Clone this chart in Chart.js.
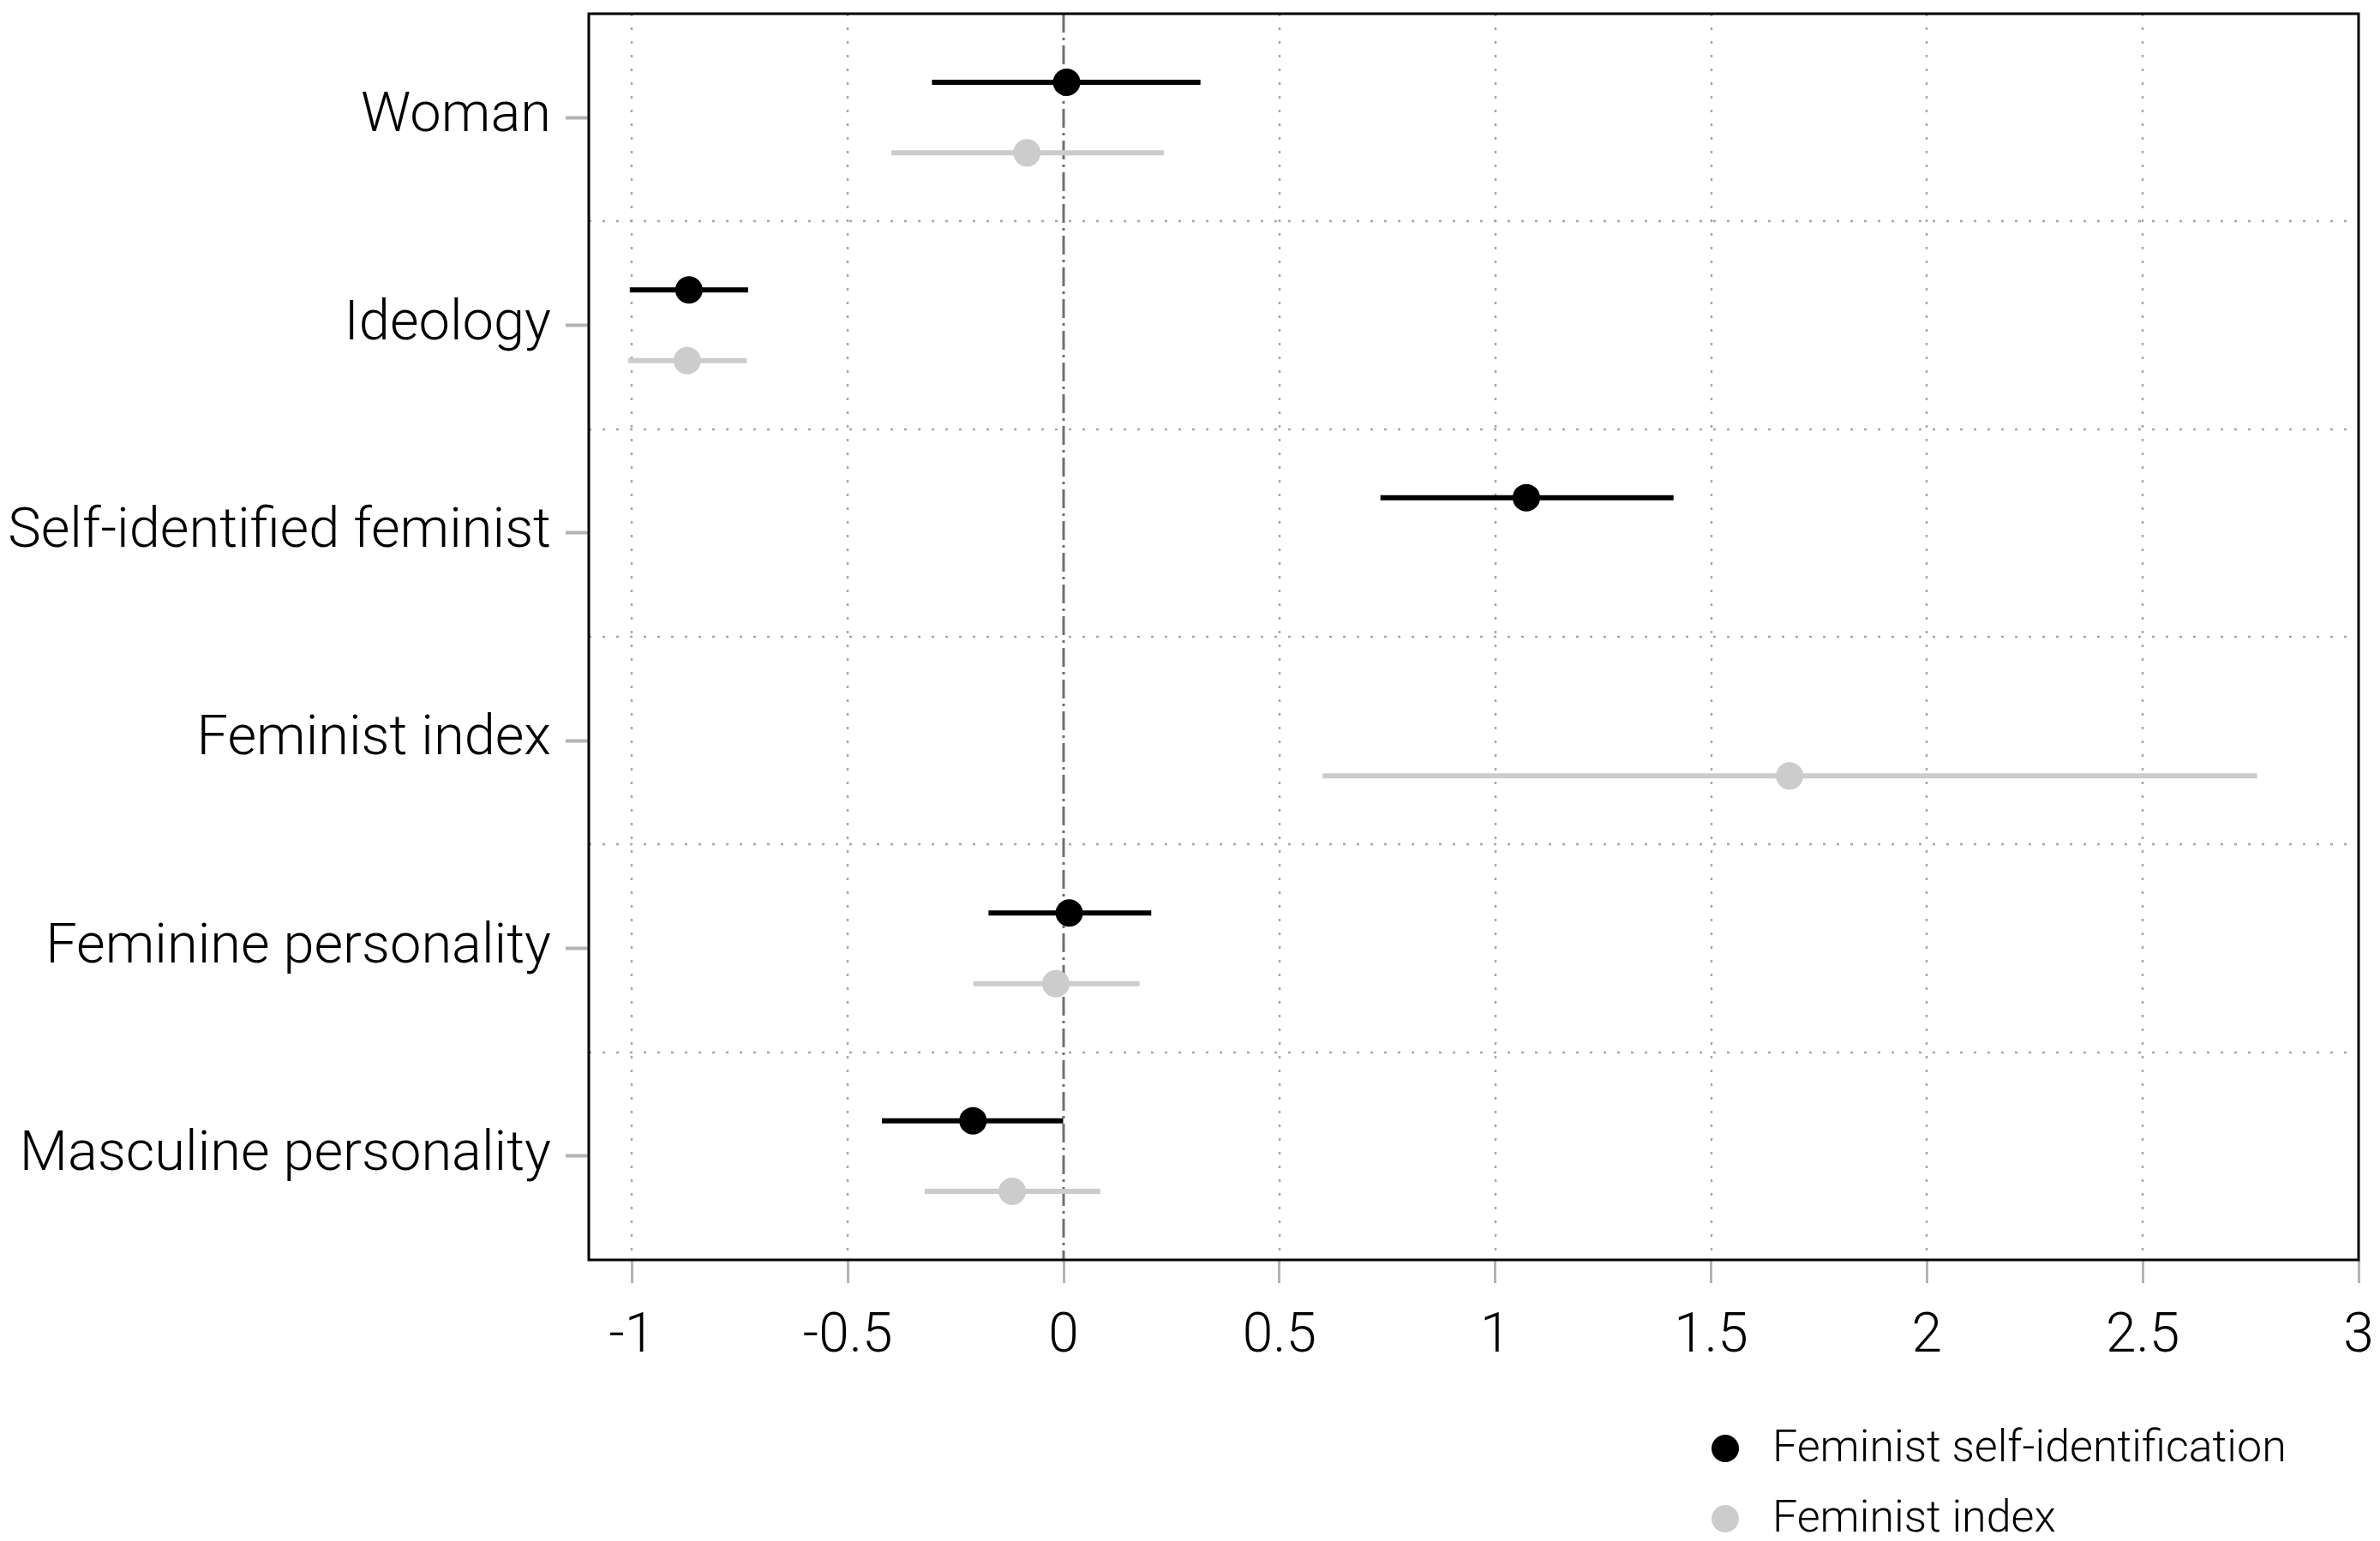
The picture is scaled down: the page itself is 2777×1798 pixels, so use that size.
<!DOCTYPE html>
<html>
<head>
<meta charset="utf-8">
<script src="https://cdn.jsdelivr.net/npm/chart.js@4.4.1/dist/chart.umd.min.js"></script>
<style>
  html,body{margin:0;padding:0;background:#fff;}
  canvas{display:block;}
</style>
</head>
<body>
<canvas id="coef-chart" width="2777" height="1798"></canvas>
<script>
// Categories (top to bottom) and the two models
const categories=["Woman","Ideology","Self-identified feminist","Feminist index","Feminine personality","Masculine personality"];
const seriesNames=["Feminist self-identification","Feminist index"];

// Estimates with interval ends (null = term not in that model)
const selfIdEst =[0.007,-0.868,1.072,null,0.013,-0.210];
const selfIdLow =[-0.305,-1.005,0.734,null,-0.174,-0.421];
const selfIdHigh=[0.317,-0.731,1.413,null,0.203,0.000];
const indexEst  =[-0.085,-0.872,null,1.682,-0.018,-0.119];
const indexLow  =[-0.399,-1.009,null,0.600,-0.209,-0.322];
const indexHigh =[0.232,-0.734,null,2.765,0.176,0.085];

const xTicks=[-1,-0.5,0,0.5,1,1.5,2,2.5,3];

const FONT='Roboto, "Liberation Sans", sans-serif';
const GROUP=0.68;             // share of a row used by the two intervals
const SHIFT=GROUP/4;          // vertical shift of each series' dot within its row
const colors=['#000000','#cccccc'];

function intervals(lo,hi){ return lo.map((v,i)=>v===null?null:[v,hi[i]]); }
function dots(est,side){
  const out=[];
  est.forEach((v,i)=>{ if(v!==null) out.push({x:v,y:i+side*SHIFT}); });
  return out;
}

// dotted grid + zero reference line + frame
const gridPlugin={
  id:'dottedGrid',
  beforeDatasetsDraw(chart){
    const {ctx,chartArea:a,scales:{x,y}}=chart;
    ctx.save();
    ctx.strokeStyle='#a8a8a8'; ctx.lineWidth=2.5; ctx.setLineDash([3,13]);
    x.ticks.forEach(t=>{
      if(t.value===0||t.value>=x.max) return;
      const px=Math.round(x.getPixelForValue(t.value));
      ctx.beginPath(); ctx.moveTo(px,a.top); ctx.lineTo(px,a.bottom); ctx.stroke();
    });
    for(let i=0;i<categories.length-1;i++){
      const py=Math.round(y.getPixelForValue(i+0.5));
      ctx.beginPath(); ctx.moveTo(a.left,py); ctx.lineTo(a.right,py); ctx.stroke();
    }
    const zx=Math.round(x.getPixelForValue(0));
    ctx.strokeStyle='#707070'; ctx.lineWidth=3; ctx.setLineDash([22,6,3,6]);
    ctx.beginPath(); ctx.moveTo(zx,a.top); ctx.lineTo(zx,a.bottom); ctx.stroke();
    ctx.restore();
  },
  afterDatasetsDraw(chart){
    const {ctx,chartArea:a}=chart;
    ctx.save();
    ctx.strokeStyle='#000'; ctx.lineWidth=3;
    ctx.strokeRect(a.left,a.top,a.right-a.left,a.bottom-a.top);
    ctx.restore();
  }
};

// legend stacked under the plot, right side
const legendPlugin={
  id:'stackedLegend',
  afterDraw(chart){
    const {ctx,chartArea:a}=chart;
    const items=chart.data.datasets.filter(d=>d.type==='scatter');
    ctx.save();
    ctx.font='300 52px '+FONT; ctx.textBaseline='middle'; ctx.textAlign='left';
    items.forEach((d,i)=>{
      const cx=a.left+1326, cy=a.bottom+220+i*82;
      ctx.fillStyle=d.backgroundColor;
      ctx.beginPath(); ctx.arc(cx,cy,16,0,Math.PI*2); ctx.fill();
      ctx.fillStyle='#000';
      ctx.fillText(d.label,cx+55,cy+2);
    });
    ctx.restore();
  }
};

const ctx=document.getElementById('coef-chart').getContext('2d');
new Chart(ctx,{
  type:'bar',
  data:{
    labels:categories,
    datasets:[
      {type:'bar',label:seriesNames[0]+' CI',indexAxis:'y',xAxisID:'x',yAxisID:'y',
       data:intervals(selfIdLow,selfIdHigh),backgroundColor:colors[0],
       categoryPercentage:GROUP,barPercentage:1,maxBarThickness:6,order:2},
      {type:'bar',label:seriesNames[1]+' CI',indexAxis:'y',xAxisID:'x',yAxisID:'y',
       data:intervals(indexLow,indexHigh),backgroundColor:colors[1],
       categoryPercentage:GROUP,barPercentage:1,maxBarThickness:6,order:2},
      {type:'scatter',label:seriesNames[0],xAxisID:'x',yAxisID:'yPts',
       data:dots(selfIdEst,-1),backgroundColor:colors[0],borderWidth:0,pointRadius:16,order:1},
      {type:'scatter',label:seriesNames[1],xAxisID:'x',yAxisID:'yPts',
       data:dots(indexEst,1),backgroundColor:colors[1],borderWidth:0,pointRadius:16,order:1}
    ]
  },
  options:{
    responsive:false,
    animation:false,
    devicePixelRatio:1,
    events:[],
    layout:{padding:{left:0,right:25,top:8,bottom:208}},
    plugins:{legend:{display:false},tooltip:{enabled:false}},
    scales:{
      x:{
        type:'linear',position:'bottom',min:-1.1,max:3,offset:false,
        afterBuildTicks:s=>{ s.ticks=xTicks.map(v=>({value:v})); },
        grid:{drawOnChartArea:false,drawTicks:true,tickLength:27,tickColor:'#b3b3b3',tickWidth:3,offset:false},
        border:{display:false},
        ticks:{color:'#000',font:{family:FONT,size:64,weight:300},padding:26,maxRotation:0,autoSkip:false,
               callback:v=>String(v)},
        afterFit:s=>{ s.height=120; s.paddingLeft=0; s.paddingRight=0; }
      },
      y:{
        type:'category',position:'left',labels:categories,offset:true,
        grid:{drawOnChartArea:false,drawTicks:true,tickLength:27,tickColor:'#b3b3b3',tickWidth:4,offset:false},
        border:{display:false},
        ticks:{color:'#000',font:{family:FONT,size:65,weight:300},padding:17,autoSkip:false},
        afterFit:s=>{ s.width=687; s.paddingTop=0; s.paddingBottom=0; }
      },
      yPts:{type:'linear',position:'left',min:-0.5,max:5.5,reverse:true,display:false}
    }
  },
  plugins:[gridPlugin,legendPlugin]
});
</script>
</body>
</html>
